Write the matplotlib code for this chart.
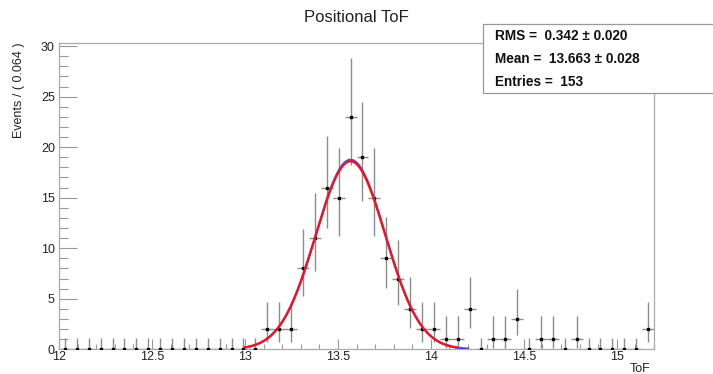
import math
import numpy as np
import matplotlib
matplotlib.use("Agg")
import matplotlib.pyplot as plt
from matplotlib.ticker import MultipleLocator
from matplotlib.patches import Rectangle

plt.rcParams['font.family'] = ['Liberation Sans', 'DejaVu Sans']

# histogram: 50 bins from 12.0 to 15.2 (width 0.064)
x_lo = 12.0
x_hi = 15.2
n_bins = 50
counts = [0, 0, 0, 0, 0, 0, 0, 0, 0, 0,
          0, 0, 0, 0, 0, 0, 0, 2, 2, 2,
          8, 11, 16, 15, 23, 19, 15, 9, 7, 4,
          2, 2, 1, 1, 4, 0, 1, 1, 3, 0,
          1, 1, 0, 1, 0, 0, 0, 0, 0, 2]

# gaussian fit (red) and second curve drawn beneath (blue)
fit_amp = 18.6
fit_mean = 13.568
fit_sigma = 0.187
fit_range = (13.0, 14.14)
blue_amp = 18.75
blue_range = (13.0, 14.2)

stat_lines = ["RMS =  0.342 \u00b1 0.020",
              "Mean =  13.663 \u00b1 0.028",
              "Entries =  153"]


def pois_cdf(n, mu):
    s = 0.0
    for k in range(n + 1):
        s += math.exp(-mu + k * math.log(mu) - math.lgamma(k + 1))
    return s


def solve(f, a, b):
    for _ in range(80):
        m = 0.5 * (a + b)
        if f(a) * f(m) <= 0:
            b = m
        else:
            a = m
    return 0.5 * (a + b)


# poisson 1 sigma intervals like RooFit
alpha = (1 - 0.682689) / 2
lo_err, hi_err = [], []
for n in counts:
    if n == 0:
        lo, hi = 0.0, -math.log(1 - 0.682689)
    else:
        lo = solve(lambda mu: (1 - pois_cdf(n - 1, mu)) - alpha, 1e-6, n + 50)
        hi = solve(lambda mu: pois_cdf(n, mu) - alpha, n, n + 60)
    lo_err.append(n - lo)
    hi_err.append(hi - n)

width = (x_hi - x_lo) / n_bins
centers = x_lo + width * (np.arange(n_bins) + 0.5)
counts = np.array(counts)

fig = plt.figure(figsize=(7.13, 3.74), dpi=100)
ax = fig.add_axes([59 / 713, 1 - 349.3 / 374, 595 / 713, 306.3 / 374])

ax.errorbar(centers, counts, yerr=[lo_err, hi_err], xerr=width / 2,
            fmt='none', ecolor='#8c8c8c', elinewidth=1.0, capsize=0, zorder=2)
ax.plot(centers, counts, 's', color='black', ms=2.0, zorder=3)

xb = np.linspace(blue_range[0], blue_range[1], 300)
ax.plot(xb, blue_amp * np.exp(-0.5 * ((xb - fit_mean) / fit_sigma) ** 2),
        color='#4646ff', lw=1.6, zorder=4)
xr = np.linspace(fit_range[0], fit_range[1], 300)
ax.plot(xr, fit_amp * np.exp(-0.5 * ((xr - fit_mean) / fit_sigma) ** 2),
        color='#ff1010', lw=1.6, zorder=5)

ax.set_xlim(x_lo, x_hi)
ax.set_ylim(0, 1.05 * max(counts + np.array(hi_err)))

ax.xaxis.set_major_locator(MultipleLocator(0.5))
ax.xaxis.set_minor_locator(MultipleLocator(0.1))
ax.yaxis.set_major_locator(MultipleLocator(5))
ax.yaxis.set_minor_locator(MultipleLocator(1))
ax.xaxis.set_major_formatter(plt.FuncFormatter(lambda v, p: f"{v:g}"))

ax.tick_params(axis='x', which='major', direction='in', length=7, width=0.8,
               color='#999999', labelsize=9, pad=1.5, labelcolor='#222222')
ax.tick_params(axis='x', which='minor', direction='in', length=3.5, width=0.8,
               color='#999999')
ax.tick_params(axis='y', which='major', direction='in', length=13, width=0.8,
               color='#999999', labelsize=9, pad=3, labelcolor='#222222')
ax.tick_params(axis='y', which='minor', direction='in', length=6.5, width=0.8,
               color='#999999')
for s in ax.spines.values():
    s.set_color('#aaaaaa')
    s.set_linewidth(0.9)

fig.text(0.5, 1 - 17 / 374, "Positional ToF", ha='center', va='center',
         fontsize=12, color='#222222')
fig.text(19.5 / 713, 1 - 43 / 374, "Events / ( 0.064 )", rotation=90,
         ha='center', va='top', fontsize=9, color='#222222')
fig.text(650 / 713, 1 - 363 / 374, "ToF", ha='right', va='top',
         fontsize=9, color='#222222')

# stats box, runs off the right edge like the original
box = Rectangle((483 / 713, 1 - 93 / 374), 260 / 713, 69 / 374,
                transform=fig.transFigure, facecolor='white',
                edgecolor='#999999', lw=0.9, zorder=10, clip_on=False)
fig.patches.append(box)
for i, t in enumerate(stat_lines):
    fig.text(495 / 713, 1 - (36 + 23 * i) / 374, t, ha='left', va='center',
             fontsize=9.8, fontweight='bold', color='#111111', zorder=11)

fig.savefig("out.png", dpi=100)
